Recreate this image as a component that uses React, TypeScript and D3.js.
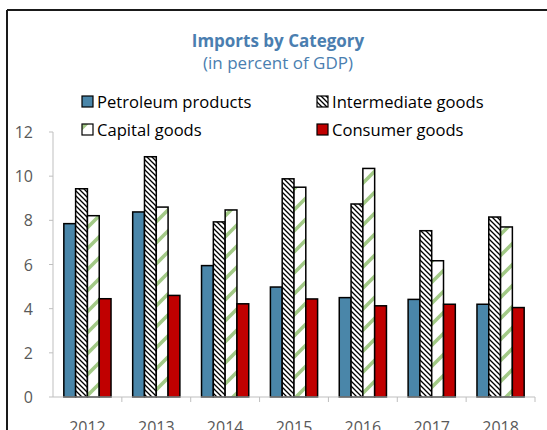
import React from "react";
import * as d3 from "d3";

const years = ["2012", "2013", "2014", "2015", "2016", "2017", "2018"];
const seriesNames = ["Petroleum products", "Intermediate goods", "Capital goods", "Consumer goods"];
const petroleum = [7.85, 8.38, 5.95, 4.98, 4.5, 4.42, 4.2];
const intermediate = [9.43, 10.88, 7.93, 9.88, 8.74, 7.53, 8.15];
const capital = [8.21, 8.6, 8.47, 9.5, 10.35, 6.17, 7.7];
const consumer = [4.45, 4.6, 4.22, 4.44, 4.13, 4.2, 4.05];
const yTicks = [0, 2, 4, 6, 8, 10, 12];

const W = 547;
const H = 430;

export default function App() {
  const values = [petroleum, intermediate, capital, consumer];
  const fills = ["#4a86a9", "url(#hatchDark)", "url(#hatchGreen)", "#c00000"];
  const x = d3.scaleBand<string>().domain(years).range([53, 535]).paddingInner(0).paddingOuter(0);
  const y = d3.scaleLinear().domain([0, 12]).range([397, 132]);
  const barW = 11.8;
  const font = "'Open Sans', 'Noto Sans', sans-serif";
  const textColor = "#595959";
  const titleColor = "#4a7eb0";

  const legendItems = [
    { name: seriesNames[0], fill: fills[0], x: 82, y: 102 },
    { name: seriesNames[1], fill: fills[1], x: 317, y: 102 },
    { name: seriesNames[2], fill: fills[2], x: 82, y: 130 },
    { name: seriesNames[3], fill: fills[3], x: 317, y: 130 },
  ];

  return (
    <svg width={W} height={H} style={{ position: "absolute", left: 0, top: 0, background: "#fff" }}>
      <defs>
        <pattern id="hatchDark" patternUnits="userSpaceOnUse" width={5} height={5}>
          <rect width={5} height={5} fill="#fff" />
          <path d="M-1,-1 L6,6 M-1,4 L1,6 M4,-1 L6,1" stroke="#000" strokeWidth={1.3} />
        </pattern>
        <pattern id="hatchGreen" patternUnits="userSpaceOnUse" width={21} height={21}>
          <rect width={21} height={21} fill="#fff" />
          <path d="M-2,23 L23,-2 M-2,2 L2,-2 M19,23 L23,19" stroke="#a2c986" strokeWidth={3.6} />
        </pattern>
      </defs>

      {/* frame */}
      <line x1={7} x2={W} y1={10} y2={10} stroke="#1a1a1a" strokeWidth={2} />
      <line x1={7} x2={7} y1={10} y2={H} stroke="#1a1a1a" strokeWidth={2} />

      {/* title */}
      <text x={278} y={47} textAnchor="middle" fontFamily={font} fontWeight="bold" fontSize={17} fill={titleColor}>
        Imports by Category
      </text>
      <text x={278} y={69} textAnchor="middle" fontFamily={font} fontSize={17} fill={titleColor}>
        (in percent of GDP)
      </text>

      {/* legend */}
      {legendItems.map((it) => (
        <g key={it.name}>
          <rect x={it.x} y={it.y - 6} width={11} height={11} fill={it.fill} stroke="#000" strokeWidth={1.2} />
          <text x={it.x + 15} y={it.y + 6} fontFamily={font} fontSize={16.6} fill="#000">
            {it.name}
          </text>
        </g>
      ))}

      {/* y axis */}
      <line x1={53} x2={53} y1={y(12)} y2={y(0)} stroke="#bfbfbf" strokeWidth={1} />
      {yTicks.map((t) => (
        <g key={t}>
          <line x1={49} x2={53} y1={y(t)} y2={y(t)} stroke="#bfbfbf" strokeWidth={1} />
          <text x={33} y={y(t) + 6} textAnchor="end" fontFamily={font} fontSize={16} fill={textColor}>
            {t}
          </text>
        </g>
      ))}

      {/* bars */}
      {years.map((yr, i) => {
        const cx = (x(yr) as number) + x.bandwidth() / 2;
        const start = cx - (barW * 4) / 2;
        return (
          <g key={yr}>
            {values.map((vals, s) => (
              <rect
                key={s}
                x={start + s * barW}
                y={y(vals[i])}
                width={barW}
                height={y(0) - y(vals[i])}
                fill={fills[s]}
                stroke="#000"
                strokeWidth={1.5}
              />
            ))}
          </g>
        );
      })}

      {/* x axis */}
      <line x1={53} x2={535} y1={y(0)} y2={y(0)} stroke="#bfbfbf" strokeWidth={1} />
      {years.map((yr) => (
        <line key={yr} x1={(x(yr) as number) + x.bandwidth()} x2={(x(yr) as number) + x.bandwidth()} y1={y(0)} y2={y(0) + 5} stroke="#bfbfbf" strokeWidth={1} />
      ))}
      {years.map((yr) => (
        <text key={yr} x={(x(yr) as number) + x.bandwidth() / 2} y={433} textAnchor="middle" fontFamily={font} fontSize={16} fill={textColor}>
          {yr}
        </text>
      ))}
    </svg>
  );
}
